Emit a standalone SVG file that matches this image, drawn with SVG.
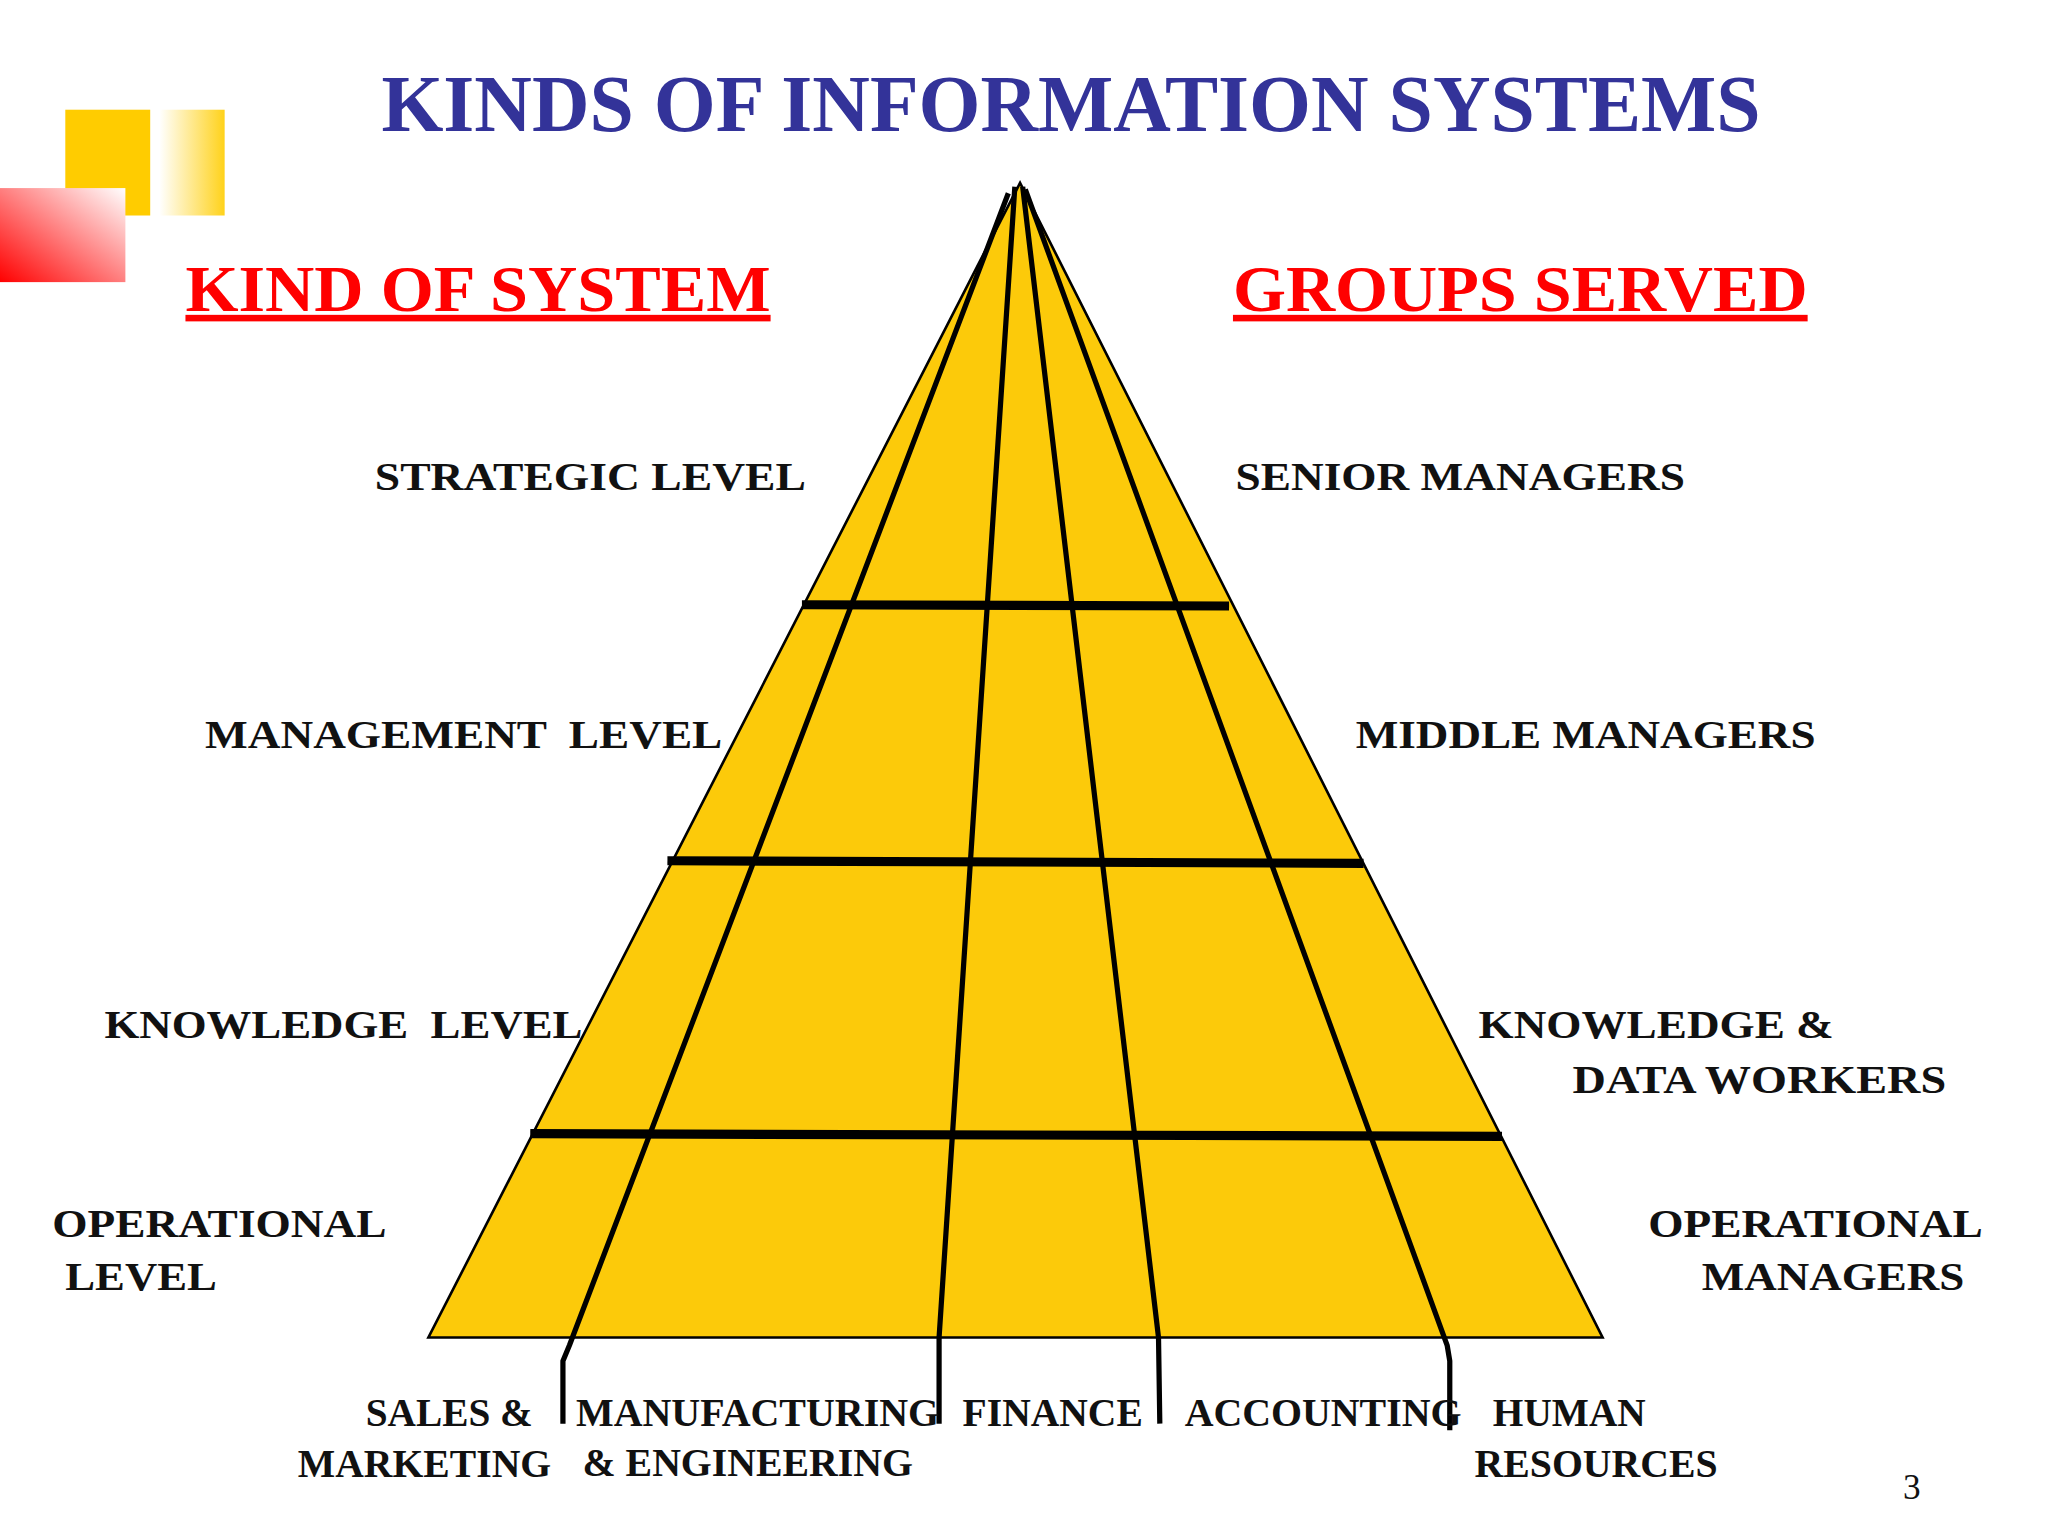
<svg xmlns="http://www.w3.org/2000/svg" width="2048" height="1536" viewBox="0 0 2048 1536">
<defs>
<linearGradient id="gy" x1="0" y1="0" x2="1" y2="0"><stop offset="0" stop-color="#ffffff"/><stop offset="1" stop-color="#ffd21a"/></linearGradient>
<linearGradient id="gr" x1="0" y1="1" x2="1" y2="0"><stop offset="0" stop-color="#ff0000"/><stop offset="1" stop-color="#ffffff"/></linearGradient>
<style>
.t{font-family:"Liberation Serif","Times New Roman",serif;font-weight:bold;fill:#111}
.l{font-size:31px}
.h{font-size:50px;fill:#ff0000;text-decoration:underline}
.d{fill:none;stroke:#000;stroke-width:4;stroke-linejoin:round}
.b{stroke:#000;stroke-width:7}
</style>
</defs>
<rect width="2048" height="1536" fill="#fff"/>
<g transform="scale(1.3061)">
<g id="decor">
<rect x="50" y="84" width="65" height="81" fill="#ffcc00"/>
<rect x="122" y="84" width="50" height="81" fill="url(#gy)"/>
<rect x="0" y="144" width="96" height="72" fill="url(#gr)"/>
</g>
<text class="t" x="292" y="100" font-size="62" fill="#333399" style="fill:#333399" textLength="1056" lengthAdjust="spacingAndGlyphs">KINDS OF INFORMATION SYSTEMS</text>
<text class="t h" x="142" y="238" textLength="448" lengthAdjust="spacingAndGlyphs">KIND OF SYSTEM</text>
<text class="t h" x="944" y="238" textLength="440" lengthAdjust="spacingAndGlyphs">GROUPS SERVED</text>
<g id="pyramid">
<polygon points="781,140 328,1024 1227,1024" fill="#fcca0a" stroke="#000" stroke-width="2"/>
</g>
<g id="connectors">
<line class="b" x1="614" y1="463" x2="941" y2="464"/>
<line class="b" x1="511" y1="659" x2="1044" y2="661"/>
<line class="b" x1="406" y1="868" x2="1150" y2="870"/>
<polyline class="d" points="772,148 436,1030 431,1042 431,1090"/>
<polyline class="d" points="777,143 719,1024 719,1090"/>
<polyline class="d" points="783,143 887,1024 888,1090"/>
<polyline class="d" points="785,145 1108,1030 1110,1042 1110,1095"/>
</g>
<g id="labels">
<text class="t l" x="287" y="375" textLength="330" lengthAdjust="spacingAndGlyphs">STRATEGIC LEVEL</text>
<text class="t l" x="946" y="375" textLength="344" lengthAdjust="spacingAndGlyphs">SENIOR MANAGERS</text>
<text class="t l" x="157" y="573" textLength="396" lengthAdjust="spacingAndGlyphs" xml:space="preserve">MANAGEMENT  LEVEL</text>
<text class="t l" x="1038" y="573" textLength="352" lengthAdjust="spacingAndGlyphs">MIDDLE MANAGERS</text>
<text class="t l" x="80" y="795" textLength="366" lengthAdjust="spacingAndGlyphs" xml:space="preserve">KNOWLEDGE  LEVEL</text>
<text class="t l" x="1132" y="795" textLength="272" lengthAdjust="spacingAndGlyphs">KNOWLEDGE &amp;</text>
<text class="t l" x="1204" y="837" textLength="286" lengthAdjust="spacingAndGlyphs">DATA WORKERS</text>
<text class="t l" x="40" y="947" textLength="256" lengthAdjust="spacingAndGlyphs">OPERATIONAL</text>
<text class="t l" x="50" y="988" textLength="116" lengthAdjust="spacingAndGlyphs">LEVEL</text>
<text class="t l" x="1262" y="947" textLength="256" lengthAdjust="spacingAndGlyphs">OPERATIONAL</text>
<text class="t l" x="1303" y="988" textLength="201" lengthAdjust="spacingAndGlyphs">MANAGERS</text>
<text class="t l" x="280" y="1092" textLength="128" lengthAdjust="spacingAndGlyphs">SALES &amp;</text>
<text class="t l" x="228" y="1131" textLength="194" lengthAdjust="spacingAndGlyphs">MARKETING</text>
<text class="t l" x="441" y="1092" textLength="278" lengthAdjust="spacingAndGlyphs">MANUFACTURING</text>
<text class="t l" x="446" y="1130" textLength="253" lengthAdjust="spacingAndGlyphs">&amp; ENGINEERING</text>
<text class="t l" x="737" y="1092" textLength="138" lengthAdjust="spacingAndGlyphs">FINANCE</text>
<text class="t l" x="907" y="1092" textLength="212" lengthAdjust="spacingAndGlyphs">ACCOUNTING</text>
<text class="t l" x="1143" y="1092" textLength="117" lengthAdjust="spacingAndGlyphs">HUMAN</text>
<text class="t l" x="1129" y="1131" textLength="186" lengthAdjust="spacingAndGlyphs">RESOURCES</text>
<text x="1457" y="1148" font-family="Liberation Serif, serif" font-size="27" fill="#111">3</text>
</g>
</g>
</svg>
